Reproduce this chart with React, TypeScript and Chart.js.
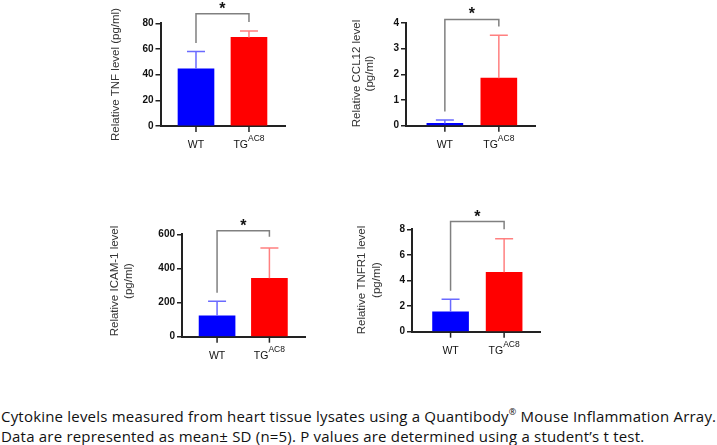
import React, { useEffect, useRef } from 'react';
import { Chart, registerables } from 'chart.js';
Chart.register(...registerables);

// ---- data ----
const groups = ['WT', 'TG'];
const groupSup = ['', 'AC8'];
const tnfMean = [44.5, 69];
const tnfSd = [13.5, 5];
const ccl12Mean = [0.09, 1.85];
const ccl12Sd = [0.13, 1.67];
const icamMean = [123, 342];
const icamSd = [84, 178];
const tnfr1Mean = [1.56, 4.64];
const tnfr1Sd = [0.97, 2.63];
const tnfTicks = { max: 80, step: 20 };
const ccl12Ticks = { max: 4, step: 1 };
const icamTicks = { max: 600, step: 200 };
const tnfr1Ticks = { max: 8, step: 2 };
const tnfTitle = ['Relative TNF level (pg/ml)'];
const ccl12Title = ['Relative CCL12 level', '(pg/ml)'];
const icamTitle = ['Relative ICAM-1 level', '(pg/ml)'];
const tnfr1Title = ['Relative TNFR1 level', '(pg/ml)'];
// significance bracket: [bracket level, left leg end, right leg end] in data units
const tnfBracket = [87.5, 64.7, 81];
const ccl12Bracket = [4.14, 0.55, 3.86];
const icamBracket = [621, 258, 586];
const tnfr1Bracket = [8.6, 3.2, 8.0];
const caption1 = 'Cytokine levels measured from heart tissue lysates using a Quantibody';
const caption1b = ' Mouse Inflammation Array.';
const caption2 = 'Data are represented as mean\u00b1 SD (n=5). P values are determined using a student\u2019s t test.';

const barColors = ['#0000ff', '#ff0000'];
const errColors = ['#6a6aff', '#ff8080'];

type PanelDef = {
  mean: number[]; sd: number[]; ticks: { max: number; step: number };
  title: string[]; bracket: number[];
  left: number; top: number; w: number; h: number;
  area: { l: number; t: number; r: number; b: number };
  xMin: number; xMax: number;
  titleX: number[]; titleCy: number;
};

const panels: PanelDef[] = [
  { mean: tnfMean, sd: tnfSd, ticks: tnfTicks, title: tnfTitle, bracket: tnfBracket,
    left: 100, top: 0, w: 200, h: 165, area: { l: 160.5, t: 23.3, r: 285, b: 126 },
    xMin: -0.67, xMax: 1.68, titleX: [-45], titleCy: 74.5 },
  { mean: ccl12Mean, sd: ccl12Sd, ticks: ccl12Ticks, title: ccl12Title, bracket: ccl12Bracket,
    left: 330, top: 0, w: 220, h: 165, area: { l: 406, t: 23, r: 535, b: 125.7 },
    xMin: -0.72, xMax: 1.67, titleX: [-49, -36], titleCy: 73.5 },
  { mean: icamMean, sd: icamSd, ticks: icamTicks, title: icamTitle, bracket: icamBracket,
    left: 100, top: 200, w: 220, h: 170, area: { l: 182, t: 234.3, r: 305, b: 336.7 },
    xMin: -0.67, xMax: 1.68, titleX: [-67, -53], titleCy: 281 },
  { mean: tnfr1Mean, sd: tnfr1Sd, ticks: tnfr1Ticks, title: tnfr1Title, bracket: tnfr1Bracket,
    left: 330, top: 200, w: 220, h: 170, area: { l: 412, t: 229.3, r: 540, b: 331.7 },
    xMin: -0.72, xMax: 1.67, titleX: [-50, -35], titleCy: 280 },
];

const AXIS = '#222';
const SANS = '"Liberation Sans", Arial, sans-serif';

function makePlugin(p: PanelDef) {
  return {
    id: 'annot',
    afterDraw(chart: any) {
      const { ctx, chartArea: a, scales } = chart;
      const x = scales.x, y = scales.y;
      ctx.save();
      // error bars
      p.mean.forEach((m, i) => {
        const px = x.getPixelForValue(i);
        const y0 = y.getPixelForValue(m);
        const y1 = y.getPixelForValue(m + p.sd[i]);
        ctx.strokeStyle = errColors[i];
        ctx.lineWidth = 1.5;
        ctx.beginPath();
        ctx.moveTo(px, y0); ctx.lineTo(px, y1);
        ctx.moveTo(px - 9, y1); ctx.lineTo(px + 9, y1);
        ctx.stroke();
      });
      // x tick marks + labels
      groups.forEach((g, i) => {
        const px = x.getPixelForValue(i);
        ctx.strokeStyle = AXIS;
        ctx.lineWidth = 1.5;
        ctx.beginPath();
        ctx.moveTo(px, a.bottom); ctx.lineTo(px, a.bottom + 6);
        ctx.stroke();
        ctx.fillStyle = '#111';
        ctx.textBaseline = 'middle';
        ctx.textAlign = 'left';
        ctx.font = `10.5px ${SANS}`;
        const mw = ctx.measureText(g).width;
        ctx.font = `8.5px ${SANS}`;
        const sw = groupSup[i] ? ctx.measureText(groupSup[i]).width : 0;
        const x0 = px - (mw + sw) / 2;
        const cy = a.bottom + 19;
        ctx.font = `10.5px ${SANS}`;
        ctx.fillText(g, x0, cy);
        if (groupSup[i]) {
          ctx.font = `8.5px ${SANS}`;
          ctx.fillText(groupSup[i], x0 + mw, cy - 6.5);
        }
      });
      // bracket
      const [bl, ll, rl] = p.bracket;
      const bx0 = x.getPixelForValue(0), bx1 = x.getPixelForValue(1);
      const by = y.getPixelForValue(bl);
      ctx.strokeStyle = '#808080';
      ctx.lineWidth = 1.5;
      ctx.beginPath();
      ctx.moveTo(bx0, y.getPixelForValue(ll));
      ctx.lineTo(bx0, by);
      ctx.lineTo(bx1, by);
      ctx.lineTo(bx1, y.getPixelForValue(rl));
      ctx.stroke();
      ctx.fillStyle = '#111';
      ctx.font = `bold 16px ${SANS}`;
      ctx.textAlign = 'center';
      ctx.textBaseline = 'alphabetic';
      ctx.fillText('*', (bx0 + bx1) / 2, by);
      // y title
      ctx.fillStyle = '#333';
      ctx.font = `11.5px ${SANS}`;
      ctx.textAlign = 'center';
      ctx.textBaseline = 'middle';
      p.title.forEach((t, i) => {
        ctx.save();
        ctx.translate(a.left + p.titleX[i], p.titleCy - p.top);
        ctx.rotate(-Math.PI / 2);
        ctx.fillText(t, 0, 0);
        ctx.restore();
      });
      ctx.restore();
    },
  };
}

function Panel({ p }: { p: PanelDef }) {
  const ref = useRef<HTMLCanvasElement>(null);
  useEffect(() => {
    if (!ref.current) return;
    const yWidth = p.area.l - p.left;
    const xHeight = p.top + p.h - p.area.b;
    const chart = new Chart(ref.current, {
      type: 'bar',
      data: {
        datasets: [{
          data: p.mean.map((m, i) => ({ x: i, y: m })),
          backgroundColor: barColors,
          borderWidth: 0,
          barThickness: 36,
        }],
      },
      options: {
        animation: false,
        responsive: false,
        devicePixelRatio: 1,
        layout: { padding: { top: p.area.t - p.top, left: 0, right: p.left + p.w - p.area.r, bottom: 0 } },
        plugins: { legend: { display: false }, tooltip: { enabled: false } },
        scales: {
          x: {
            type: 'linear', min: p.xMin, max: p.xMax, offset: false,
            grid: { display: false, offset: false },
            ticks: { display: false },
            border: { color: AXIS, width: 2 },
            afterFit: (s: any) => { s.height = xHeight; },
          },
          y: {
            min: 0, max: p.ticks.max,
            grid: { drawOnChartArea: false, drawTicks: true, tickLength: 5, color: AXIS, lineWidth: 1.5 },
            border: { color: AXIS, width: 2 },
            ticks: { stepSize: p.ticks.step, color: '#111', padding: 2, font: { family: SANS, weight: 'bold', size: 10 } },
            afterFit: (s: any) => { s.width = yWidth; },
          },
        },
      } as any,
      plugins: [makePlugin(p)],
    });
    return () => chart.destroy();
  }, [p]);
  return (
    <canvas ref={ref} width={p.w} height={p.h}
      style={{ position: 'absolute', left: p.left, top: p.top, width: p.w, height: p.h }} />
  );
}

export default function App() {
  return (
    <div style={{ position: 'fixed', left: 0, top: 0, width: 717, height: 445, background: '#fff', overflow: 'hidden' }}>
      {panels.map((p, i) => <Panel key={i} p={p} />)}
      <div style={{ position: 'absolute', left: 1, top: 406, fontFamily: '"Open Sans", Lato, sans-serif', fontSize: 15, letterSpacing: '0.2px', lineHeight: '20px', color: '#111', whiteSpace: 'nowrap' }}>
        <div>{caption1}<sup style={{ fontSize: 9, verticalAlign: 'top', lineHeight: '12px' }}>®</sup>{caption1b}</div>
        <div>{caption2}</div>
      </div>
    </div>
  );
}
